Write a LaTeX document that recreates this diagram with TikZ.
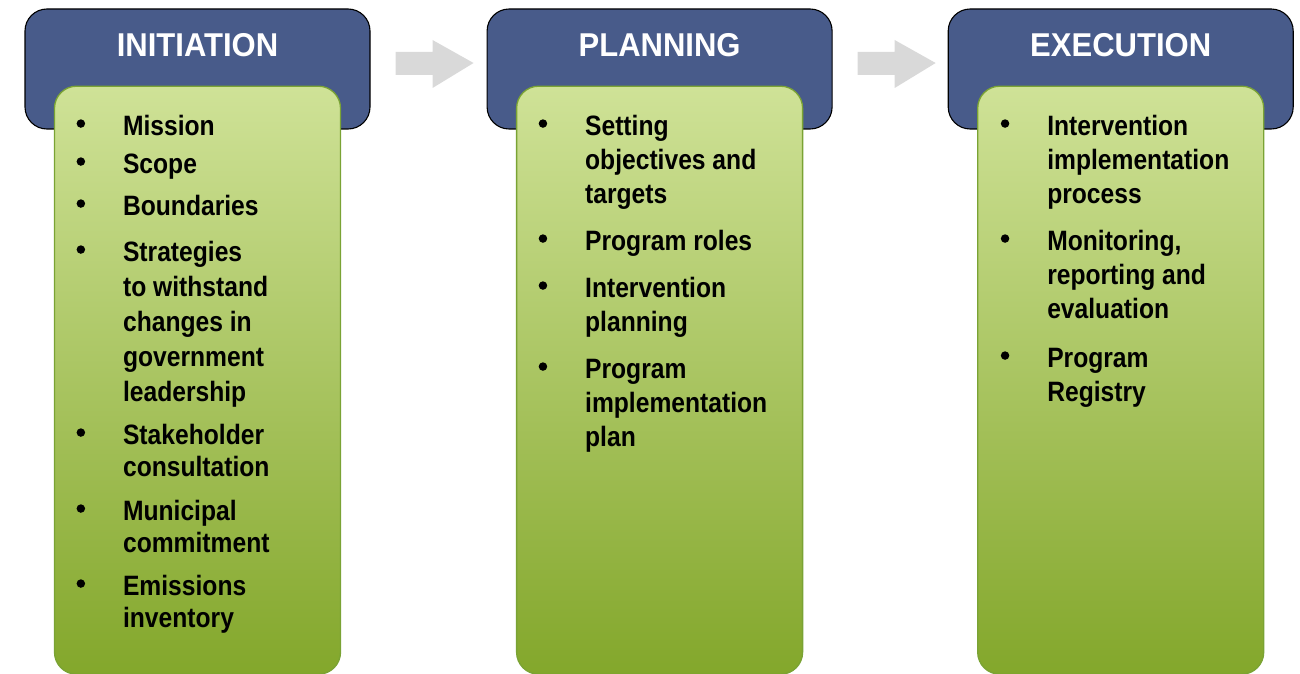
\documentclass[tikz,border=0pt]{standalone}
\usepackage{fontspec}
\usepackage{xcolor}
\usepackage{tikz}
\usetikzlibrary{positioning,calc}
\newfontfamily\itemfam[FakeStretch=0.88]{Liberation Sans}
\newfontfamily\ttlfam[FakeStretch=0.94]{Liberation Sans}
\definecolor{phaseblue}{RGB}{72,91,138}
\definecolor{stepline}{RGB}{122,163,52}
\definecolor{steptop}{RGB}{207,226,151}
\definecolor{stepmid}{RGB}{188,211,122}
\definecolor{stepbot}{RGB}{131,167,43}
\definecolor{flowgray}{RGB}{217,217,217}
% first line of a wrapped item sits on the node's base
\newcommand{\lines}[1]{\begin{tabular}[t]{@{}l@{}}#1\end{tabular}}
\tikzset{
  phase/.style={draw=black, line width=1.1pt, fill=phaseblue, rounded corners=22pt,
    minimum width=345pt, minimum height=120pt, inner sep=0pt},
  steps/.style={draw=stepline, line width=1.3pt, rounded corners=22pt,
    top color=steptop, middle color=stepmid, bottom color=stepbot,
    minimum width=286pt, minimum height=588pt, inner sep=0pt},
  ttl/.style={text=white, font=\ttlfam\bfseries\fontsize{33}{36}\selectfont, inner sep=0pt},
  pt/.style={font=\itemfam\bfseries\fontsize{28}{34}\selectfont,
    anchor=base west, inner sep=0pt},
  dot/.style={circle, fill=black, minimum size=8.5pt, inner sep=0pt},
  flow/.style={fill=flowgray, draw=none},
}

\begin{document}
\begin{tikzpicture}[x=1pt, y=-1pt]
  \useasboundingbox (0,0) rectangle (1300,674);

  % phase headers
  \node[phase] (ini) at (197.5,69) {};
  \node[phase, right=116pt of ini] (pla) {};
  \node[phase, right=115pt of pla] (exe) {};

  % arrows between the phases
  \foreach \a/\b in {ini/pla, pla/exe} {
    \coordinate (s) at ($(\a.east)+(25,-6)$);
    \fill[flow] (s) ++(0,-11) -- ++(37,0) -- ++(0,-12) -- ++(41,23)
      -- ++(-41,25) -- ++(0,-13) -- ++(-37,0) -- cycle;
  }

  % step lists under each header
  \node[steps, anchor=north] (ini-list) at ([yshift=44pt]ini.south) {};
  \node[steps, anchor=north] (pla-list) at ([yshift=44pt]pla.south) {};
  \node[steps, anchor=north] (exe-list) at ([yshift=44pt]exe.south) {};

  \node[ttl, anchor=base] (ini-t) at ([yshift=-48pt]ini.north) {INITIATION};
  \node[ttl, anchor=base] (pla-t) at ([yshift=-48pt]pla.north) {PLANNING};
  \node[ttl, anchor=base] (exe-t) at ([yshift=-48pt]exe.north) {EXECUTION};

  \foreach \dy/\txt [count=\i] in {50/Mission, 88/Scope, 130/Boundaries,
      176/{Strategies\\[1pt]to withstand\\[1pt]changes in\\[1pt]government\\[1pt]leadership},
      359/{Stakeholder\\[-2pt]consultation}, 435/{Municipal\\[-2pt]commitment},
      510/{Emissions\\[-2pt]inventory}} {
    \node[dot] (ini-b\i) at ([shift={(27,\dy-12)}]ini-list.north west) {};
    \node[pt] (ini-i\i) at ([shift={(69,\dy)}]ini-list.north west) {\lines{\txt}};
  }

  \foreach \dy/\txt [count=\i] in {50/{Setting\\objectives and\\targets},
      165/Program roles, 212/{Intervention\\planning},
      293/{Program\\implementation\\plan}} {
    \node[dot] (pla-b\i) at ([shift={(27,\dy-12)}]pla-list.north west) {};
    \node[pt] (pla-i\i) at ([shift={(69,\dy)}]pla-list.north west) {\lines{\txt}};
  }

  \foreach \dy/\txt [count=\i] in {50/{Intervention\\implementation\\process},
      165/{Monitoring,\\reporting and\\evaluation}, 282/{Program\\Registry}} {
    \node[dot] (exe-b\i) at ([shift={(28,\dy-12)}]exe-list.north west) {};
    \node[pt] (exe-i\i) at ([shift={(70,\dy)}]exe-list.north west) {\lines{\txt}};
  }
\end{tikzpicture}
\end{document}
